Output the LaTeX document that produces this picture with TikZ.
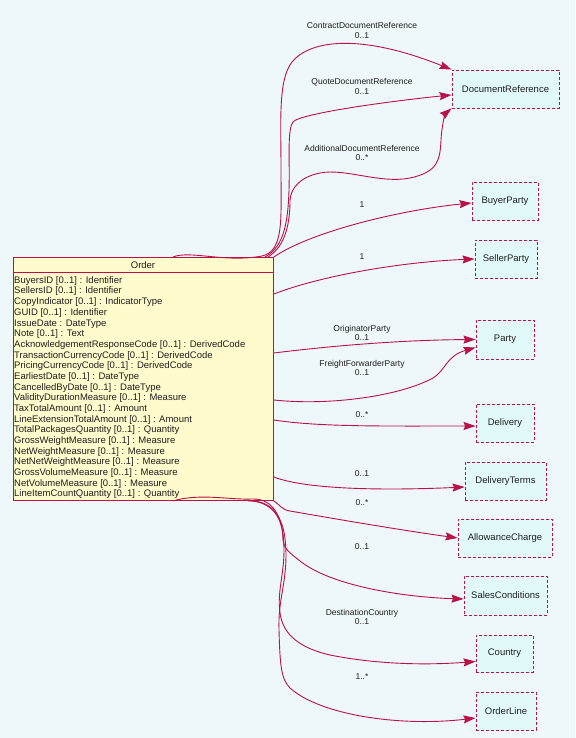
\documentclass[tikz,border=0pt]{standalone}
\usepackage{fontspec}
\setmainfont{Liberation Sans}
\usetikzlibrary{arrows.meta,calc}
\definecolor{bgc}{RGB}{238,247,249}
\definecolor{boxfill}{RGB}{226,249,250}
\definecolor{orderfill}{RGB}{255,251,204}
\definecolor{crim}{RGB}{186,18,72}
\definecolor{txt}{RGB}{30,30,30}
\begin{document}
\begin{tikzpicture}[x=1pt,y=-1pt,
  typebox/.style={draw=crim, fill=boxfill, dash pattern=on 3pt off 2pt, line width=0.9pt,
    minimum height=38pt, inner sep=0pt, text=txt, font=\fontsize{9.5}{11}\selectfont},
  orderbox/.style={draw=crim, fill=orderfill, line width=0.9pt, inner sep=0pt, anchor=north west},
  attr/.style={anchor=base west, inner sep=0pt, text=txt, font=\fontsize{9.5}{11}\selectfont},
  lbl/.style={align=center, inner sep=0pt, text=txt, font=\fontsize{8.5}{9.6}\selectfont},
  conn/.style={draw=crim, line width=0.9pt, -{Stealth[length=12pt,width=8pt,inset=1.5pt]}},
]
\useasboundingbox (0,0) rectangle (575,738);
\fill[bgc] (0,0) rectangle (575,738);

% Order class
\node[orderbox, minimum width=260pt, minimum height=243pt] (order) at (13,257) {};
\draw[crim, line width=0.9pt] ($(order.north west)+(0,15.5)$) coordinate (hl) -- ($(order.north east)+(0,15.5)$) coordinate (hr);
\node[inner sep=0pt, text=txt, font=\fontsize{9.5}{11}\selectfont] (ordertitle) at (143,265) {Order};
\foreach \t [count=\i] in {
  {BuyersID [0..1] : Identifier},
  {SellersID [0..1] : Identifier},
  {CopyIndicator [0..1] : IndicatorType},
  {GUID [0..1] : Identifier},
  {IssueDate : DateType},
  {Note [0..1] : Text},
  {AcknowledgementResponseCode [0..1] : DerivedCode},
  {TransactionCurrencyCode [0..1] : DerivedCode},
  {PricingCurrencyCode [0..1] : DerivedCode},
  {EarliestDate [0..1] : DateType},
  {CancelledByDate [0..1] : DateType},
  {ValidityDurationMeasure [0..1] : Measure},
  {TaxTotalAmount [0..1] : Amount},
  {LineExtensionTotalAmount [0..1] : Amount},
  {TotalPackagesQuantity [0..1] : Quantity},
  {GrossWeightMeasure [0..1] : Measure},
  {NetWeightMeasure [0..1] : Measure},
  {NetNetWeightMeasure [0..1] : Measure},
  {GrossVolumeMeasure [0..1] : Measure},
  {NetVolumeMeasure [0..1] : Measure},
  {LineItemCountQuantity [0..1] : Quantity}}
  \node[attr] (attr\i) at (14,{283.3+10.68*(\i-1)}) {\t};

% Type boxes
\node[typebox, minimum width=107pt] (docref) at (505.5,89) {DocumentReference};
\node[typebox, minimum width=66pt] (buyer) at (505,201) {BuyerParty};
\node[typebox, minimum width=62pt] (seller) at (506,259) {SellerParty};
\node[typebox, minimum width=58pt, minimum height=39pt] (party) at (505,339.5) {Party};
\node[typebox, minimum width=58pt] (delivery) at (505,423) {Delivery};
\node[typebox, minimum width=81pt] (delterms) at (505.5,481) {DeliveryTerms};
\node[typebox, minimum width=94pt] (allow) at (505,538) {AllowanceCharge};
\node[typebox, minimum width=83pt, minimum height=39pt] (sales) at (505.5,595.5) {SalesConditions};
\node[typebox, minimum width=57pt, minimum height=37pt] (country) at (504.5,653.5) {Country};
\node[typebox, minimum width=60pt] (orderline) at (506,711) {OrderLine};

% Connectors
\draw[conn] ($(order.north west)+(160,0)$) .. controls (190,250) and (225,263) .. (262,256)
  .. controls (284,251) and (281,220) .. (281,170) .. controls (281,120) and (278,80) .. (292,62)
  .. controls (310,40) and (360,33) .. (docref.north west);
\draw[conn] ($(order.north west)+(252,0)$) .. controls (284,247) and (288,222) .. (289,190)
  .. controls (290,160) and (287,130) .. (293,122) .. controls (300,113) and (400,100) .. ($(docref.west)+(0,6)$);
\draw[conn] ($(order.north west)+(255,0)$) .. controls (286,246) and (290,222) .. (290,200)
  .. controls (291,188) and (300,177) .. (320,173) .. controls (345,168) and (380,184) .. (410,178)
  .. controls (438,172) and (440,160) .. (441,140) .. controls (442,122) and (446,113) .. (docref.south west);
\draw[conn] (order.north east) .. controls (310,232) and (400,210) .. ($(buyer.west)+(0,2)$);
\draw[conn] ($(order.north east)+(0,37)$) .. controls (320,276) and (400,262) .. (seller.west);
\draw[conn] ($(order.north east)+(0,96)$) .. controls (330,346) and (400,340) .. (party.west);
\draw[conn] ($(order.north east)+(0,143)$) .. controls (330,406) and (400,396) .. (433,378)
  .. controls (446,370) and (446,356) .. ($(party.west)+(0,8)$);
\draw[conn] ($(order.north east)+(0,163)$) .. controls (320,427) and (380,426) .. ($(delivery.west)+(0,3)$);
\draw[conn] ($(order.north east)+(0,220)$) .. controls (310,491) and (400,490) .. ($(delterms.west)+(0,6)$);
\draw[conn] (order.south east) .. controls (280,505) and (282,510) .. (290,511)
  .. controls (330,518) and (400,530) .. (allow.west);
\draw[conn] ($(order.south west)+(235,0)$) .. controls (272,501) and (283,518) .. (283,540)
  .. controls (284,549) and (290,553) .. (300,561) .. controls (330,585) and (400,597) .. ($(sales.west)+(0,3.5)$);
\draw[conn] ($(order.south west)+(160,0)$) .. controls (200,493) and (230,500) .. (252,499)
  .. controls (276,498) and (284,522) .. (284,550) .. controls (284,575) and (277,592) .. (280,613)
  .. controls (283,635) and (300,648) .. (330,655) .. controls (380,665) and (430,665) .. ($(country.west)+(0,8)$);
\draw[conn] ($(order.south west)+(240,0)$) .. controls (278,503) and (286,525) .. (286,555)
  .. controls (286,585) and (278,600) .. (279,630) .. controls (280,665) and (281,679) .. (290,688)
  .. controls (320,715) and (400,727) .. ($(orderline.west)+(0,7)$);

% Labels
\node[lbl] (l1) at (362,30.5) {ContractDocumentReference\\0..1};
\node[lbl] (l2) at (362,86.5) {QuoteDocumentReference\\0..1};
\node[lbl] (l3) at (362,153) {AdditionalDocumentReference\\0..*};
\node[lbl] (l4) at (362,205) {1};
\node[lbl] (l5) at (362,257) {1};
\node[lbl] (l6) at (362,333) {OriginatorParty\\0..1};
\node[lbl] (l7) at (362,368) {FreightForwarderParty\\0..1};
\node[lbl] (l8) at (362,415) {0..*};
\node[lbl] (l9) at (362,474) {0..1};
\node[lbl] (l10) at (362,503) {0..*};
\node[lbl] (l11) at (362,547) {0..1};
\node[lbl] (l12) at (362,617) {DestinationCountry\\0..1};
\node[lbl] (l13) at (362,677) {1..*};
\end{tikzpicture}
\end{document}
